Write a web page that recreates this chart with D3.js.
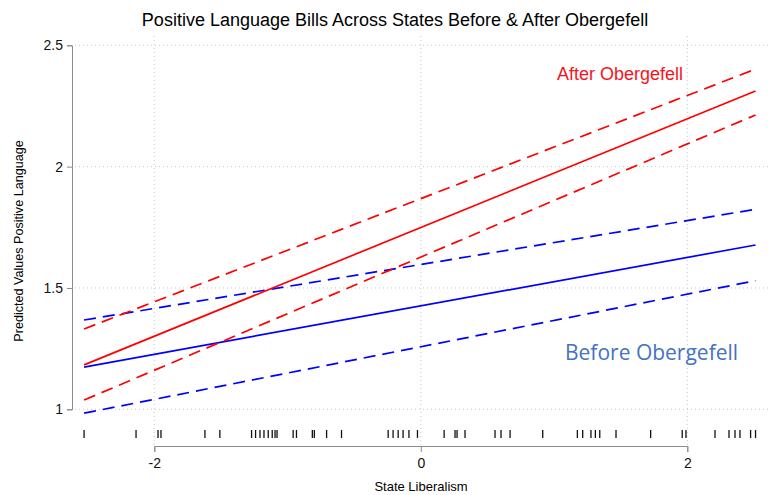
<!DOCTYPE html>
<html>
<head>
<meta charset="utf-8">
<script src="https://cdn.jsdelivr.net/npm/d3@7"></script>
<style>
  html, body { margin: 0; padding: 0; background: #fff; }
  svg { display: block; }
  text { font-family: "Liberation Sans", Arial, Helvetica, sans-serif; }
</style>
</head>
<body>
<svg id="chart" width="772" height="495"></svg>
<script>
// Range of state liberalism covered by the predictions
const xEnds = [-2.527, 2.512];

// Predicted values (fit, lower and upper 95% bounds) at the two ends
const afterFit   = [1.183, 2.312];
const afterLow   = [1.038, 2.213];
const afterHigh  = [1.331, 2.402];
const beforeFit  = [1.174, 1.677];
const beforeLow  = [0.984, 1.530];
const beforeHigh = [1.368, 1.824];

// Observed state liberalism scores (rug)
const rugValues = [
  -2.527, -2.137, -1.972, -1.950, -1.620, -1.508, -1.270, -1.240, -1.207, -1.177,
  -1.145, -1.115, -1.094, -1.079, -0.958, -0.933, -0.814, -0.799, -0.707, -0.595,
  -0.245, -0.208, -0.170, -0.133, -0.089, -0.025, 0.175, 0.257, 0.272, 0.332,
  0.557, 0.602, 0.670, 0.915, 1.175, 1.215, 1.277, 1.310, 1.343, 1.465,
  1.725, 1.962, 1.990, 2.208, 2.313, 2.358, 2.395, 2.475, 2.512
];

const xTicks = [-2, 0, 2];
const yTicks = [1, 1.5, 2, 2.5];

const svg = d3.select("#chart");
const x = d3.scaleLinear().domain([-2, 2]).range([154.3, 687.3]);
const y = d3.scaleLinear().domain([1, 2.5]).range([409.3, 45.3]);

// Dotted grid
const grid = svg.append("g").attr("stroke", "#c8c8c8").attr("stroke-width", 1)
  .attr("stroke-dasharray", "1,3");
grid.selectAll("line.h").data(yTicks).join("line")
  .attr("x1", 75).attr("x2", 768)
  .attr("y1", d => y(d)).attr("y2", d => y(d));
grid.selectAll("line.v").data(xTicks).join("line")
  .attr("x1", d => x(d)).attr("x2", d => x(d))
  .attr("y1", 36).attr("y2", 446);

// Y axis
const yAxis = svg.append("g").attr("transform", "translate(72,0)")
  .call(d3.axisLeft(y).tickValues(yTicks).tickSize(5).tickPadding(4)
    .tickFormat(d => String(d)));
yAxis.select(".domain").attr("stroke", "#8c8c8c");
yAxis.selectAll(".tick line").attr("stroke", "#8c8c8c");
yAxis.selectAll(".tick text").attr("font-size", 14).attr("fill", "#111")
  .style("font-family", "'Liberation Sans', Arial, sans-serif");

// X axis
const xAxis = svg.append("g").attr("transform", "translate(0,446)")
  .call(d3.axisBottom(x).tickValues(xTicks).tickSize(6).tickPadding(6)
    .tickFormat(d => String(d)));
xAxis.select(".domain").attr("stroke", "#8c8c8c");
xAxis.selectAll(".tick line").attr("stroke", "#8c8c8c");
xAxis.selectAll(".tick text").attr("font-size", 14).attr("fill", "#111")
  .style("font-family", "'Liberation Sans', Arial, sans-serif");

// Rug of observed states
svg.append("g").selectAll("line").data(rugValues).join("line")
  .attr("x1", d => x(d)).attr("x2", d => x(d))
  .attr("y1", 430).attr("y2", 438)
  .attr("stroke", "#111").attr("stroke-width", 1.3);

// Prediction lines
const line = d3.line().x(d => x(d[0])).y(d => y(d[1]));
const series = [
  { vals: beforeLow,  color: "#0000ff", dash: "12,7" },
  { vals: beforeHigh, color: "#0000ff", dash: "12,7" },
  { vals: beforeFit,  color: "#0000ff", dash: null },
  { vals: afterLow,   color: "#ff0000", dash: "12,7" },
  { vals: afterHigh,  color: "#ff0000", dash: "12,7" },
  { vals: afterFit,   color: "#ff0000", dash: null }
];
svg.append("g").selectAll("path").data(series).join("path")
  .attr("d", s => line(xEnds.map((xv, i) => [xv, s.vals[i]])))
  .attr("fill", "none")
  .attr("stroke", s => s.color)
  .attr("stroke-width", 1.7)
  .attr("stroke-dasharray", s => s.dash);

// Title and axis labels
svg.append("text").attr("x", 395).attr("y", 26).attr("text-anchor", "middle")
  .attr("font-size", 18).attr("fill", "#000")
  .text("Positive Language Bills Across States Before & After Obergefell");
svg.append("text").attr("transform", "translate(23,241) rotate(-90)")
  .attr("text-anchor", "middle").attr("font-size", 12.6).attr("fill", "#000")
  .text("Predicted Values Positive Language");
svg.append("text").attr("x", 421).attr("y", 491).attr("text-anchor", "middle")
  .attr("font-size", 13).attr("fill", "#000")
  .text("State Liberalism");

// Group labels
svg.append("text").attr("x", 557).attr("y", 80)
  .attr("font-size", 18).attr("fill", "#f5141e")
  .text("After Obergefell");
svg.append("text").attr("x", 565).attr("y", 360)
  .attr("font-size", 21).attr("fill", "#4472c4")
  .style("font-family", "'Open Sans', 'Noto Sans', sans-serif")
  .text("Before Obergefell");
</script>
</body>
</html>
